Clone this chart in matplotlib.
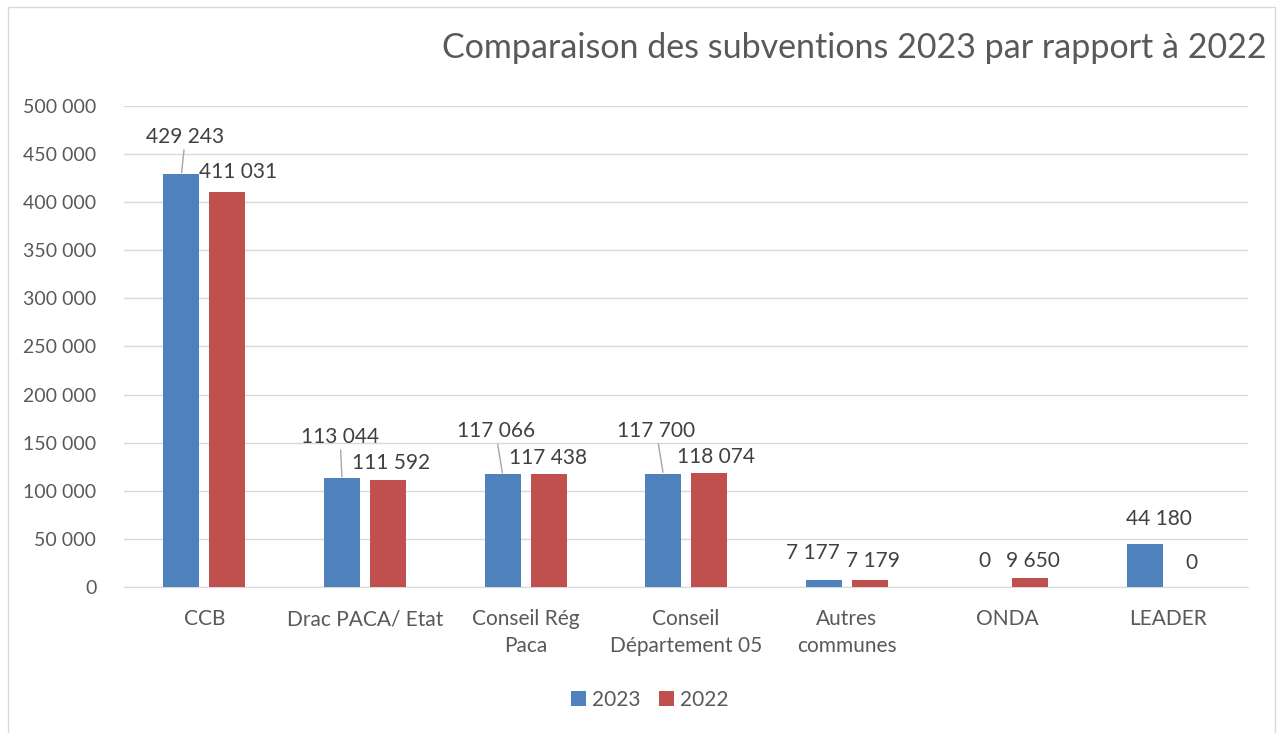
import numpy as np
import matplotlib.pyplot as plt
from matplotlib.patches import Rectangle

# Données
categories = ["CCB", "Drac PACA/ Etat", "Conseil Rég\nPaca", "Conseil\nDépartement 05",
              "Autres\ncommunes", "ONDA", "LEADER"]
valeurs_2023 = [429243, 113044, 117066, 117700, 7177, 0, 44180]
valeurs_2022 = [411031, 111592, 117438, 118074, 7179, 9650, 0]

# position des étiquettes (décalage en pixels par rapport au haut de la barre)
decal_2023 = [(4, 37), (-2, 41), (-7, 43), (-7, 43), (-11, 27), (0, 26), (14, 25)]
decal_2022 = [(11, 20), (3, 17), (-1, 16), (7, 16), (3, 19), (3, 17), (0, 24)]
ligne_2023 = [True, True, True, True, False, False, False]

bleu = "#4F81BD"
rouge = "#C0504D"
gris = "#595959"

plt.rcParams['font.family'] = ['Lato', 'DejaVu Sans']

fig = plt.figure(figsize=(12.79, 7.33), dpi=100)
ax = fig.add_axes([0.097, 0.1992, 0.879, 0.6562])

x = np.arange(len(categories))
larg = 0.224
ecart = 0.143
b1 = ax.bar(x - ecart, valeurs_2023, larg, color=bleu, label="2023", zorder=3)
b2 = ax.bar(x + ecart, valeurs_2022, larg, color=rouge, label="2022", zorder=3)


def fmt(v):
    return f"{v:,}".replace(",", " ")


for i in range(len(categories)):
    dx, dy = decal_2023[i]
    fleche = dict(arrowstyle="-", color="#A6A6A6", lw=1, shrinkA=0, shrinkB=1) if ligne_2023[i] else None
    ax.annotate(fmt(valeurs_2023[i]), (x[i] - ecart, valeurs_2023[i]),
                xytext=(dx, dy), textcoords="offset pixels", ha="center", va="center",
                fontsize=15, color="#404040", arrowprops=fleche, zorder=4)
    dx, dy = decal_2022[i]
    ax.annotate(fmt(valeurs_2022[i]), (x[i] + ecart, valeurs_2022[i]),
                xytext=(dx, dy), textcoords="offset pixels", ha="center", va="center",
                fontsize=15, color="#404040", zorder=4)

ax.set_xlim(-0.5, len(categories) - 0.5)
ax.set_ylim(0, 500000)
ax.set_yticks(np.arange(0, 500001, 50000))
ax.set_yticklabels([fmt(v) for v in range(0, 500001, 50000)])
ax.set_xticks(x)
ax.set_xticklabels(categories, linespacing=1.45)
ax.tick_params(axis="both", length=0, labelsize=14, colors=gris)
ax.tick_params(axis="x", labelsize=15, pad=16)
ax.tick_params(axis="y", pad=20)
ax.yaxis.grid(True, color="#D9D9D9", lw=1, zorder=0)
for s in ["top", "right", "left"]:
    ax.spines[s].set_visible(False)
ax.spines["bottom"].set_color("#D9D9D9")

fig.text(0.99, 0.935, "Comparaison des subventions 2023 par rapport à 2022",
         ha="right", va="center", fontsize=24.5, color=gris)

fig.legend(handles=[b1, b2], loc="center", bbox_to_anchor=(0.508, 0.045), ncol=2,
           frameon=False, fontsize=15, handlelength=0.7, handleheight=0.7,
           columnspacing=0.9, handletextpad=0.3, labelcolor=gris)

fig.patches.append(Rectangle((0.006, -0.01), 0.991, 1.0, transform=fig.transFigure,
                             fill=False, edgecolor="#D9D9D9", lw=1))

fig.savefig("out.png", dpi=100)
